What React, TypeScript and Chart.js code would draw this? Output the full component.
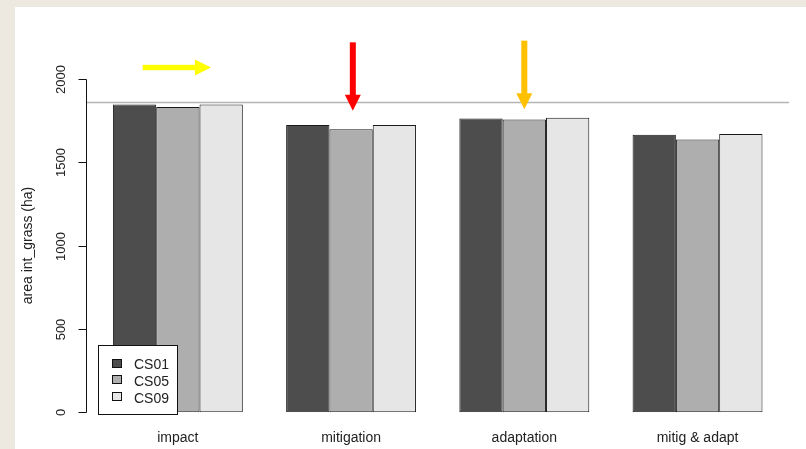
import React, { useEffect, useRef } from 'react';
import { Chart, registerables } from 'chart.js';

Chart.register(...registerables);

const categories = ['impact', 'mitigation', 'adaptation', 'mitig & adapt'];
const seriesLabels = ['CS01', 'CS05', 'CS09'];
const cs01 = [1846, 1722, 1762, 1664];
const cs05 = [1830, 1697, 1756, 1636];
const cs09 = [1846, 1722, 1766, 1668];
const yTicks = [0, 500, 1000, 1500, 2000];
const yTitle = 'area int_grass (ha)';
const referenceValue = 1862;
const seriesColors = ['#4D4D4D', '#AEAEAE', '#E6E6E6'];

// annotation arrows (category index + fractional offset, data values)
const arrowHorizontal = { cat: 0, fromOff: -0.203, toOff: 0.191, value: 2067, color: '#FFFF00' };
const arrowsVertical = [
  { cat: 1, off: 0.01, from: 2218, to: 1808, color: '#FF0000' },
  { cat: 2, off: 0.0, from: 2228, to: 1817, color: '#FFC000' },
];

const FONT = '"Liberation Sans", Arial, sans-serif';
const TEXT = '#222';

const rPlugin = {
  id: 'rstyle',
  beforeDraw(chart: any) {
    const ctx = chart.ctx;
    ctx.save();
    ctx.fillStyle = '#EDE9E1';
    ctx.fillRect(0, 0, chart.width, chart.height);
    ctx.fillStyle = '#FFFFFF';
    ctx.fillRect(15, 7, chart.width - 15, chart.height - 7);
    ctx.restore();
  },
  afterDatasetsDraw(chart: any) {
    const ctx = chart.ctx;
    const x = chart.scales.x;
    const y = chart.scales.y;
    const catW = x.getPixelForValue(1) - x.getPixelForValue(0);
    ctx.save();

    // reference line
    const ry = Math.round(y.getPixelForValue(referenceValue)) + 0.5;
    ctx.strokeStyle = '#B4B4B4';
    ctx.lineWidth = 1.5;
    ctx.beginPath();
    ctx.moveTo(86, ry);
    ctx.lineTo(789, ry);
    ctx.stroke();

    // y axis
    const ax = 86.5;
    ctx.strokeStyle = '#111';
    ctx.lineWidth = 1;
    ctx.beginPath();
    ctx.moveTo(ax, Math.round(y.getPixelForValue(yTicks[0])) + 0.5);
    ctx.lineTo(ax, Math.round(y.getPixelForValue(yTicks[yTicks.length - 1])) + 0.5);
    ctx.stroke();
    ctx.fillStyle = TEXT;
    ctx.font = `13px ${FONT}`;
    ctx.textAlign = 'center';
    ctx.textBaseline = 'middle';
    yTicks.forEach((t) => {
      const py = Math.round(y.getPixelForValue(t)) + 0.5;
      ctx.beginPath();
      ctx.moveTo(ax, py);
      ctx.lineTo(78.5, py);
      ctx.stroke();
      ctx.save();
      ctx.translate(61, py);
      ctx.rotate(-Math.PI / 2);
      ctx.fillText(String(t), 0, 0);
      ctx.restore();
    });
    // y title
    ctx.save();
    ctx.font = `14px ${FONT}`;
    ctx.translate(28, (y.getPixelForValue(0) + y.getPixelForValue(2000)) / 2);
    ctx.rotate(-Math.PI / 2);
    ctx.fillText(yTitle, 0, 0);
    ctx.restore();

    // x labels
    ctx.font = `14px ${FONT}`;
    ctx.textBaseline = 'alphabetic';
    categories.forEach((c, i) => {
      ctx.fillText(c, x.getPixelForValue(i), 442);
    });

    // legend
    ctx.fillStyle = '#FFFFFF';
    ctx.fillRect(98.5, 345.5, 79, 69);
    ctx.strokeStyle = '#111';
    ctx.lineWidth = 1;
    ctx.strokeRect(98.5, 345.5, 79, 69);
    ctx.textAlign = 'left';
    seriesLabels.forEach((lab, i) => {
      const by = 358.5 + i * 16.7;
      ctx.fillStyle = seriesColors[i];
      ctx.fillRect(Math.round(112) + 0.5, Math.round(by) + 0.5, 9, 8);
      ctx.strokeStyle = '#111';
      ctx.strokeRect(Math.round(112) + 0.5, Math.round(by) + 0.5, 9, 8);
      ctx.fillStyle = TEXT;
      ctx.font = `14px ${FONT}`;
      ctx.fillText(lab, 134, 369.3 + i * 16.7);
    });

    // arrows
    {
      const a = arrowHorizontal;
      const cx = x.getPixelForValue(a.cat);
      const x0 = cx + a.fromOff * catW;
      const x1 = cx + a.toOff * catW;
      const yy = y.getPixelForValue(a.value);
      ctx.fillStyle = a.color;
      ctx.fillRect(x0, yy - 2.7, x1 - x0 - 15, 5.4);
      ctx.beginPath();
      ctx.moveTo(x1 - 16, yy - 8);
      ctx.lineTo(x1, yy);
      ctx.lineTo(x1 - 16, yy + 8);
      ctx.closePath();
      ctx.fill();
    }
    arrowsVertical.forEach((a) => {
      const px = x.getPixelForValue(a.cat) + a.off * catW;
      const y0 = y.getPixelForValue(a.from);
      const y1 = y.getPixelForValue(a.to);
      ctx.fillStyle = a.color;
      ctx.fillRect(px - 3, y0, 6, y1 - y0 - 15);
      ctx.beginPath();
      ctx.moveTo(px - 8, y1 - 16);
      ctx.lineTo(px, y1);
      ctx.lineTo(px + 8, y1 - 16);
      ctx.closePath();
      ctx.fill();
    });

    ctx.restore();
  },
};

export default function App() {
  const ref = useRef<HTMLCanvasElement | null>(null);
  useEffect(() => {
    if (!ref.current) return;
    const series = [cs01, cs05, cs09];
    const chart = new Chart(ref.current, {
      type: 'bar',
      data: {
        labels: categories,
        datasets: series.map((d, i) => ({
          label: seriesLabels[i],
          data: d,
          backgroundColor: seriesColors[i],
          borderColor: '#1a1a1a',
          borderWidth: 1,
          borderSkipped: false,
          categoryPercentage: 0.75,
          barPercentage: 1,
        })),
      },
      options: {
        responsive: false,
        animation: false,
        layout: { padding: { left: 91.25, right: 21.85, top: 78.7, bottom: 36.7 } },
        plugins: { legend: { display: false }, tooltip: { enabled: false } },
        scales: {
          x: { display: false },
          y: { display: false, min: 0, max: 2000 },
        },
      },
      plugins: [rPlugin],
    });
    return () => chart.destroy();
  }, []);
  return (
    <div style={{ position: 'absolute', left: 0, top: 0, width: 806, height: 449 }}>
      <canvas ref={ref} width={806} height={449} style={{ display: 'block' }} />
    </div>
  );
}
